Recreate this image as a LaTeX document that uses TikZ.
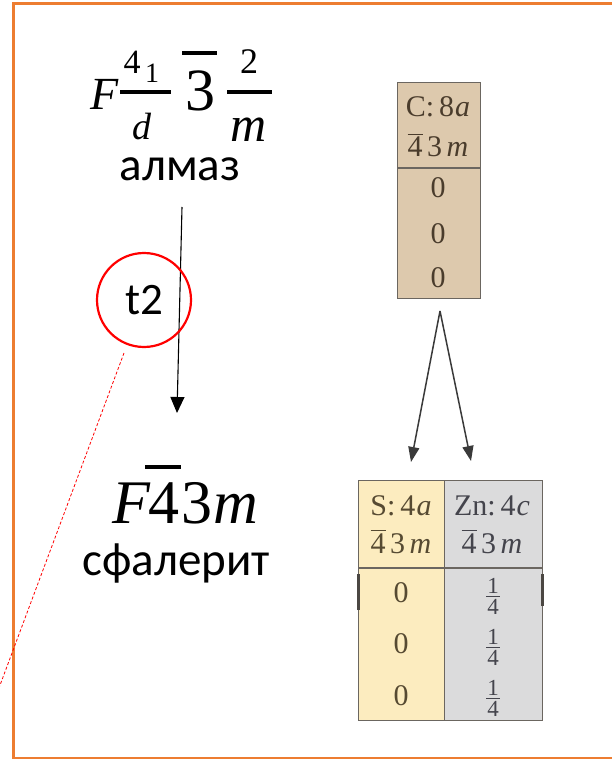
\documentclass[tikz,border=0pt]{standalone}
\usepackage{fontspec}
\newfontfamily\calfont{Carlito}
\newfontfamily\serifface{Liberation Serif}
\usetikzlibrary{arrows.meta}

% digit with a bar over it: \barred[gap]{digit}
\newcommand\barred[2][0.08em]{\leavevmode\setbox0\hbox{#2}%
  \rlap{\raisebox{\dimexpr\ht0+#1\relax}{\rule{\wd0}{0.055em}}}\box0}
% small vertical fraction built from text digits
\newcommand\vfrac[2]{\vbox{\offinterlineskip\halign{\hfil##\hfil\cr
  #1\cr\noalign{\kern2.5pt}\rule{0.6em}{0.9pt}\cr\noalign{\kern2.5pt}#2\cr}}}

\definecolor{framecol}{HTML}{ED7D31}
\definecolor{tancol}{HTML}{DDC9AD}
\definecolor{palecol}{HTML}{FCECBF}
\definecolor{greycol}{HTML}{DBDBDC}
\definecolor{inkbrown}{HTML}{4A3C2C}
\definecolor{inkolive}{HTML}{564A32}
\definecolor{inkgrey}{HTML}{44444C}
\definecolor{rulecol}{HTML}{6B6660}
\definecolor{arrowcol}{HTML}{3A3A3A}

\tikzset{
  txt/.style={inner sep=0pt, anchor=base},
  cyr/.style={txt, font=\calfont\fontsize{47}{50}\selectfont},
  sym/.style={txt, font=\serifface\fontsize{#1}{#1}\selectfont},
  isym/.style={txt, font=\serifface\itshape\fontsize{#1}{#1}\selectfont},
  tab/.style={txt, font=\serifface\fontsize{30}{32}\selectfont},
  frac/.style={inner sep=0pt, anchor=center, font=\serifface\fontsize{23}{23}\selectfont},
  cell/.style={draw=rulecol, line width=1.3pt, inner sep=0pt, anchor=north west},
  arrowblack/.style={line width=1.1pt, -{Triangle[width=14pt,length=16pt]}},
  arrowgrey/.style={draw=arrowcol, line width=1.5pt, -{Triangle[width=11pt,length=15pt]}, fill=arrowcol},
}

\begin{document}
\begin{tikzpicture}[x=1pt,y=-1pt]
\useasboundingbox (0,0) rectangle (611,759);

% frame
\draw[framecol, line width=3pt] (640,4) -- (13.5,4) -- (13.5,758.5) -- (640,758.5);

% space group of diamond
\node[isym=46, anchor=base west] (gF) at (90,110) {F};
\node[sym=34] (g4) at (132,74) {4};
\node[sym=28, anchor=base west] (g1) at (145,83) {1};
\draw[line width=3.5pt] (120,92) -- (171,92);
\node[isym=38] (gd) at (142,140) {d};
\node[sym=60] (g3) at (200,111) {3};
\draw[line width=4pt] (182,53) -- (217,53);
\node[sym=36] (g2) at (249,74) {2};
\draw[line width=3.5pt] (227,92) -- (272,92);
\node[isym=50] (gm) at (249,142) {m};
\node[cyr] (almaz) at (180,181) {алмаз};

% transition
\coordinate (a0) at (182,207);
\coordinate (a1) at (177,413);
\draw[arrowblack] (a0) -- (a1);

\node[draw=red, line width=2.2pt, circle, minimum size=94pt, inner sep=0pt,
      font=\calfont\fontsize{45}{48}\selectfont] (t2) at (144,300) {t2};
\coordinate (d0) at (124,353);
\coordinate (d1) at (-10,712);
\draw[red, line width=0.8pt, dash pattern=on 3pt off 2pt] (d0) -- (d1);

% space group of sphalerite
\node[isym=62, anchor=base west] (sF) at (112,523) {F};
\node[sym=62] (s4) at (164,523) {4};
\draw[line width=4pt] (145,467) -- (181,467);
\node[sym=62] (s3) at (197,523) {3};
\node[isym=62] (sm) at (236,523) {m};
\node[cyr] (sphal) at (176,575) {сфалерит};

% Wyckoff table of diamond
\node[cell, fill=tancol, minimum width=83pt, minimum height=216pt] (ctab) at (397,82) {};
\draw[rulecol, line width=1.3pt] (397,168) -- (480,168);
\node[tab, text=inkbrown] (chead) at (438,117) {C:\,8\kern1pt{\itshape a}};
\node[tab, text=inkbrown] (csym) at (438,157) {\barred[0.06em]{4}\hspace{0.15em}3\hspace{0.15em}{\itshape m}};
\node[tab, text=inkbrown] (cx) at (438,198) {0};
\node[tab, text=inkbrown] (cy) at (438,243) {0};
\node[tab, text=inkbrown] (cz) at (438,287) {0};

% splitting arrows
\coordinate (apex) at (440,311);
\coordinate (tipL) at (411,462);
\coordinate (tipR) at (471,461);
\draw[arrowgrey] (apex) -- (tipL);
\draw[arrowgrey] (apex) -- (tipR);

% Wyckoff table of sphalerite
\node[cell, fill=palecol, minimum width=86pt, minimum height=240pt] (scol) at (358,480) {};
\node[cell, fill=greycol, minimum width=98pt, minimum height=240pt] (zcol) at (444,480) {};
\draw[rulecol, line width=1.3pt] (358,568) -- (542,568);
\draw[rulecol!70!black, line width=3pt] (358,574) -- (358,610);
\draw[rulecol!70!black, line width=3pt] (542,574) -- (542,606);

\node[tab, text=inkolive] (shead) at (401,515) {S:\,4\kern1pt{\itshape a}};
\node[tab, text=inkolive] (ssym) at (401,553) {\barred[0.06em]{4}\hspace{0.15em}3\hspace{0.15em}{\itshape m}};
\node[tab, text=inkolive] (sx) at (401,602) {0};
\node[tab, text=inkolive] (sy) at (401,653) {0};
\node[tab, text=inkolive] (sz) at (401,705) {0};

\node[tab, text=inkgrey] (zhead) at (492,515) {Zn:\,4\kern1pt{\itshape c}};
\node[tab, text=inkgrey] (zsym) at (492,553) {\barred[0.06em]{4}\hspace{0.15em}3\hspace{0.15em}{\itshape m}};
\node[frac, text=inkgrey] (zx) at (493,596) {\vfrac{1}{4}};
\node[frac, text=inkgrey] (zy) at (493,647) {\vfrac{1}{4}};
\node[frac, text=inkgrey] (zz) at (493,698) {\vfrac{1}{4}};
\end{tikzpicture}
\end{document}
